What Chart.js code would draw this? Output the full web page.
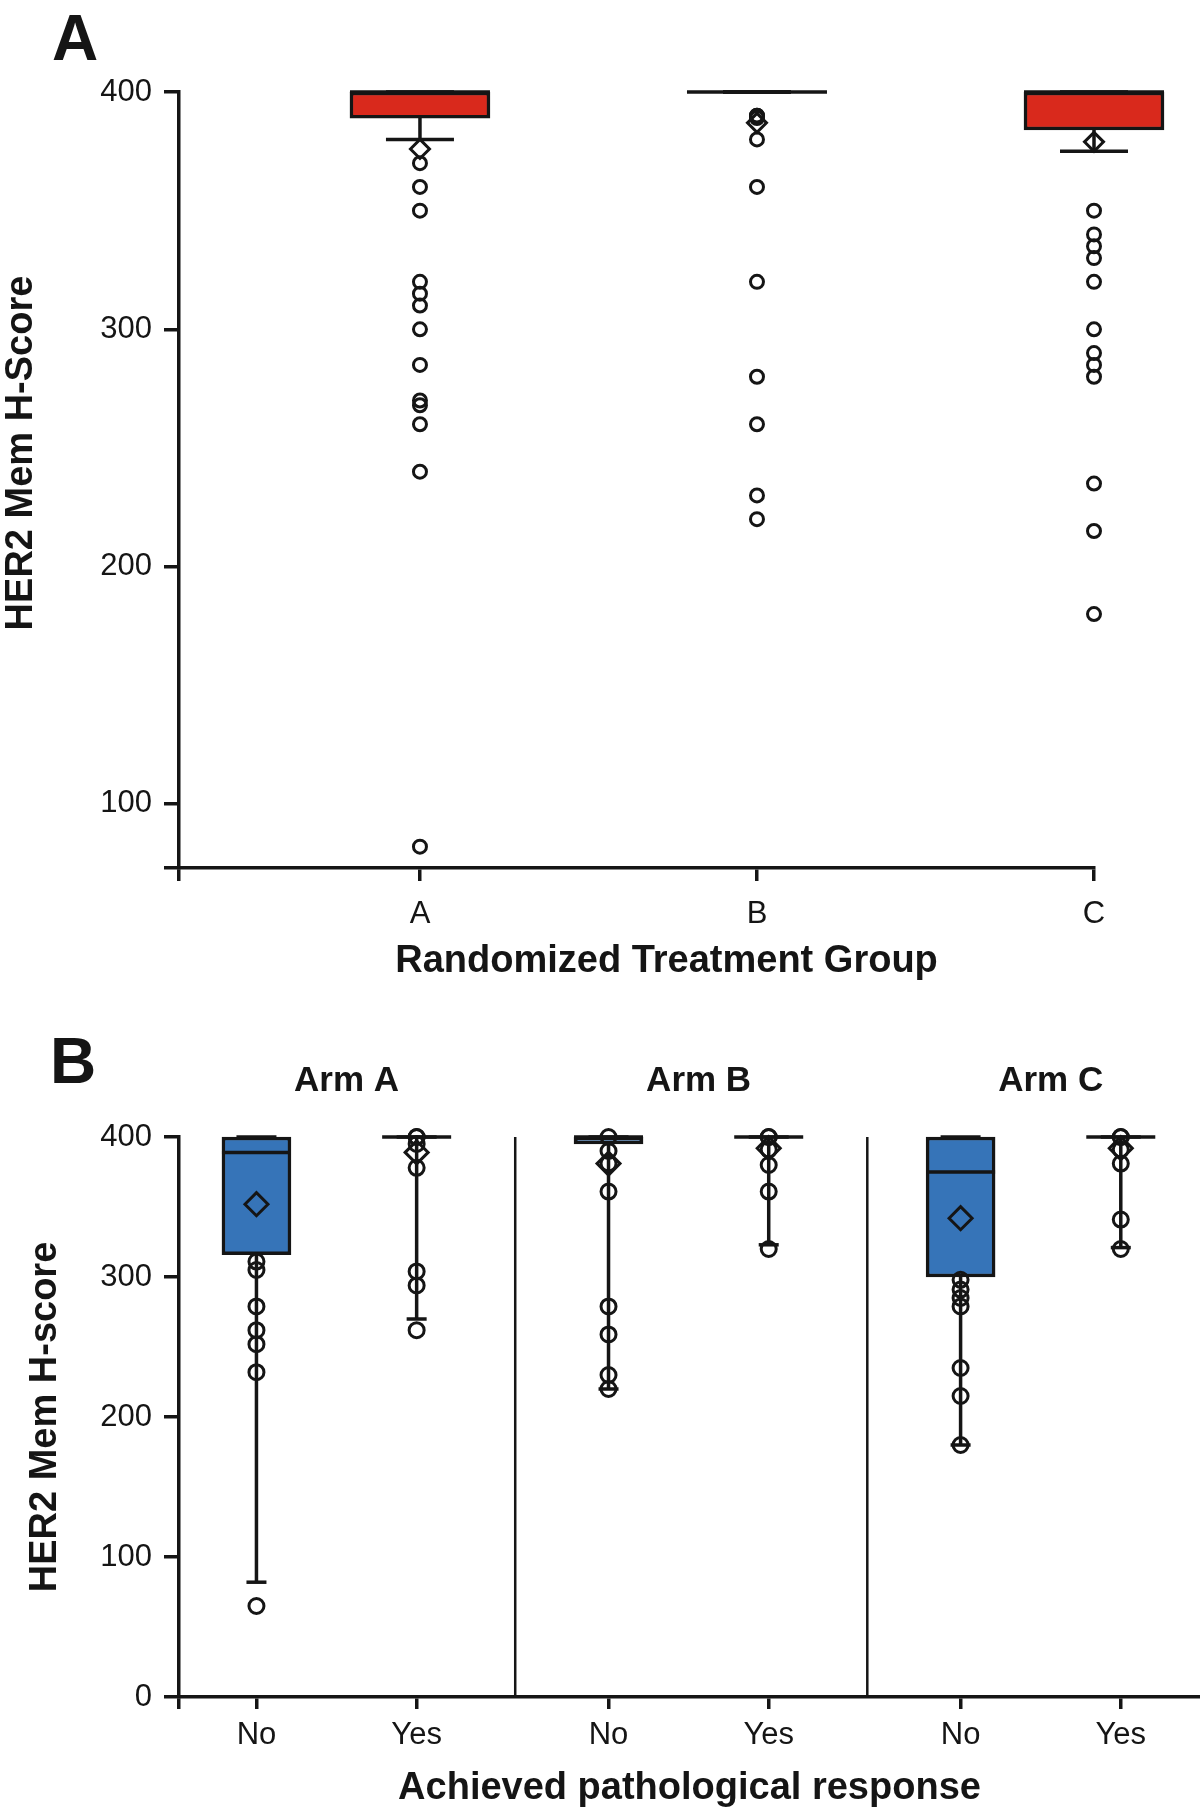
<!DOCTYPE html>
<html>
<head>
<meta charset="utf-8">
<script src="https://cdn.jsdelivr.net/npm/chart.js@4.4.0/dist/chart.umd.min.js"></script>
<style>
  body { margin: 0; background: #fff; }
  #page { position: relative; width: 1200px; height: 1813px; font-family: 'Liberation Sans', Arial, sans-serif; }
  #page canvas { position: absolute; left: 0; }
  .letter { position: absolute; font-weight: bold; font-size: 64px; line-height: 64px; color: #151515; }
</style>
</head>
<body>
<div id="page">
  <canvas id="chartA" width="1200" height="1000" style="top:0"></canvas>
  <canvas id="chartB" width="1200" height="813" style="top:1000px"></canvas>
  <div class="letter" style="left:52px; top:6px">A</div>
  <div class="letter" style="left:50px; top:1029px">B</div>
</div>
<script>
// panel A: HER2 score by randomized group
const groupsA = ['A', 'B', 'C'];
const q1A = [389, 400, 384];
const medA = [400, 400, 400];
const q3A = [400, 400, 400];
const loA = [380, 400, 375];
const hiA = [400, 400, 400];
const meanA = [376, 387, 379];
const outA = [
  [370, 360, 350, 320, 315, 310, 300, 285, 270, 268, 260, 240, 82],
  [390, 390, 389, 380, 360, 320, 280, 260, 230, 220],
  [350, 340, 335, 330, 320, 300, 290, 285, 280, 235, 215, 180]
];
const yTicksA = [100, 200, 300, 400];

// panel B: by arm and pathological response (A-No, A-Yes, B-No, B-Yes, C-No, C-Yes)
const arms = ['Arm A', 'Arm B', 'Arm C'];
const responses = ['No', 'Yes'];
const q1B = [316, 400, 395, 400, 300, 400];
const medB = [389, 400, 400, 400, 375, 400];
const q3B = [400, 400, 400, 400, 400, 400];
const loB = [82, 270, 220, 323, 180, 321];
const hiB = [400, 400, 400, 400, 400, 400];
const meanB = [352, 389, 381, 392, 342, 392];
const ptsB = [
  [311, 305, 279, 262, 252, 232, 65],
  [400, 400, 395, 378, 304, 294, 262],
  [400, 390, 381, 361, 279, 259, 230, 220],
  [400, 400, 391, 380, 361, 320],
  [298, 291, 285, 279, 235, 215, 180],
  [400, 400, 391, 381, 341, 320]
];
const yTicksB = [0, 100, 200, 300, 400];

const ink = '#151515';
const red = '#d9291c';
const blue = '#3674b8';
const family = "'Liberation Sans', Arial, sans-serif";
Chart.defaults.font.family = family;
Chart.defaults.color = ink;

// builds the box, whisker, cap, median, mean and point layers for one panel
function boxLayers(xs, s, st) {
  const whisk = [], caps = [], capR = [];
  xs.forEach((x, i) => {
    whisk.push({x, y: s.q1[i]}, {x, y: s.lo[i]}, {x, y: null});
    whisk.push({x, y: s.q3[i]}, {x, y: s.hi[i]}, {x, y: null});
    caps.push({x, y: s.lo[i]}, {x, y: s.hi[i]});
    capR.push(st.loCap, st.hiCap);
  });
  const pts = [];
  xs.forEach((x, i) => s.pts[i].forEach(v => pts.push({x, y: v})));
  return [
    { type: 'bar', order: 6, clip: false, data: xs.map((x, i) => ({x, y: [s.q1[i], s.q3[i]]})),
      backgroundColor: st.fill, borderColor: ink, borderWidth: 3.5, borderSkipped: false, barThickness: st.boxW },
    { type: 'scatter', order: 5, clip: false, data: whisk, showLine: true, spanGaps: false,
      borderColor: ink, borderWidth: 3.5, pointRadius: 0 },
    { type: 'scatter', order: 4, clip: false, data: caps, pointStyle: 'line', pointRadius: capR,
      pointBorderColor: ink, pointBorderWidth: 3.5 },
    { type: 'scatter', order: 3, clip: false, data: xs.map((x, i) => ({x, y: s.med[i]})),
      pointStyle: 'line', pointRadius: st.boxW / 2, pointBorderColor: ink, pointBorderWidth: 3.5 },
    { type: 'scatter', order: 2, clip: false, data: xs.map((x, i) => ({x, y: s.mean[i]})),
      pointStyle: 'rectRot', pointRadius: st.meanR, pointBackgroundColor: 'rgba(0,0,0,0)',
      pointBorderColor: ink, pointBorderWidth: 3 },
    { type: 'scatter', order: 1, clip: false, data: pts, pointStyle: 'circle', pointRadius: st.ptR,
      pointBackgroundColor: 'rgba(0,0,0,0)', pointBorderColor: ink, pointBorderWidth: 3 }
  ];
}

function axis(tickLen) {
  return {
    offset: false,
    border: { display: true, color: ink, width: 3.5 },
    grid: { offset: false, drawOnChartArea: false, drawTicks: true, tickLength: tickLen, color: ink, lineWidth: 3.5 }
  };
}
const tickFont = { size: 31 };
const titleFont = { size: 38, weight: 'bold', lineHeight: 1 };

// panel A axis titles sit a bit off-centre in the original, so they are drawn here
const titlesA = {
  id: 'titlesA',
  afterDraw(chart) {
    const { ctx, chartArea: a } = chart;
    ctx.save();
    ctx.font = 'bold 38px ' + family;
    ctx.fillStyle = ink;
    ctx.textAlign = 'center';
    ctx.textBaseline = 'middle';
    ctx.fillText('Randomized Treatment Group', (a.left + a.right) / 2 + 30, a.bottom + 94);
    ctx.translate(22, (a.top + a.bottom) / 2 - 27);
    ctx.rotate(-Math.PI / 2);
    ctx.fillText('HER2 Mem H-Score', 0, 0);
    ctx.restore();
  }
};

// panel A
const xsA = groupsA.map((g, i) => i + 1);
new Chart(document.getElementById('chartA'), {
  type: 'scatter',
  data: {
    datasets: boxLayers(xsA,
      { q1: q1A, med: medA, q3: q3A, lo: loA, hi: hiA, mean: meanA, pts: outA },
      { fill: red, boxW: 140, loCap: 34, hiCap: 34, meanR: 9.5, ptR: 6.5 })
  },
  options: {
    responsive: false, animation: false, events: [],
    layout: { autoPadding: false, padding: { top: 92, right: 106, left: 0, bottom: 0 } },
    plugins: { legend: { display: false }, tooltip: { enabled: false } },
    scales: {
      x: {
        type: 'linear', min: 0.285, max: 3, ...axis(13),
        afterBuildTicks: s => { s.ticks = [s.min].concat(xsA).map(v => ({ value: v })); },
        ticks: { autoSkip: false, maxRotation: 0, padding: 15, font: tickFont, color: ink,
                 callback: (v, i) => i === 0 ? '' : groupsA[i - 1] },
        afterFit: s => { s.height = 132; s.paddingLeft = 0; s.paddingRight = 0; }
      },
      y: {
        type: 'linear', min: 73, max: 400, ...axis(15),
        afterBuildTicks: s => { s.ticks = [s.min].concat(yTicksA).map(v => ({ value: v })); },
        ticks: { autoSkip: false, padding: 12, font: tickFont, color: ink,
                 callback: (v, i) => i === 0 ? '' : v },
        afterFit: s => { s.width = 179; }
      }
    }
  },
  plugins: [titlesA]
});

// panel B
const slot = [0.53, 1.44];
const xsB = arms.flatMap((a, g) => slot.map(o => g * 2 + o));
const yMinB = yTicksB[0], yMaxB = yTicksB[yTicksB.length - 1];
const dividers = [];
arms.slice(1).forEach((a, g) => {
  dividers.push({ x: (g + 1) * 2, y: yMinB }, { x: (g + 1) * 2, y: yMaxB }, { x: (g + 1) * 2, y: null });
});

const armTitles = {
  id: 'armTitles',
  afterDraw(chart) {
    const { ctx, chartArea } = chart;
    const x = chart.scales.x;
    ctx.save();
    ctx.font = 'bold 35px ' + family;
    ctx.fillStyle = ink;
    ctx.textAlign = 'center';
    ctx.textBaseline = 'middle';
    arms.forEach((a, g) => {
      ctx.fillText(a, x.getPixelForValue(g * 2 + (slot[0] + slot[1]) / 2) + 10, chartArea.top - 56);
    });
    ctx.restore();
  }
};

new Chart(document.getElementById('chartB'), {
  type: 'scatter',
  data: {
    datasets: boxLayers(xsB,
      { q1: q1B, med: medB, q3: q3B, lo: loB, hi: hiB, mean: meanB, pts: ptsB },
      { fill: blue, boxW: 69, loCap: 10, hiCap: 20, meanR: 11.5, ptR: 7.5 })
      .concat([{ type: 'scatter', order: 7, clip: false, data: dividers, showLine: true, spanGaps: false,
                 borderColor: ink, borderWidth: 2.5, pointRadius: 0 }])
  },
  options: {
    responsive: false, animation: false, events: [],
    layout: { autoPadding: false, padding: { top: 137, right: 0, left: 0, bottom: 0 } },
    plugins: { legend: { display: false }, tooltip: { enabled: false } },
    scales: {
      x: {
        type: 'linear', min: 0.09, max: 5.89, ...axis(12),
        afterBuildTicks: s => { s.ticks = [s.min].concat(xsB).map(v => ({ value: v })); },
        ticks: { autoSkip: false, maxRotation: 0, padding: 8, font: tickFont, color: ink,
                 callback: (v, i) => i === 0 ? '' : responses[(i - 1) % 2] },
        title: { display: true, text: 'Achieved pathological response', font: titleFont, color: ink,
                 padding: { top: 0, bottom: 5 } },
        afterFit: s => { s.height = 116; s.paddingLeft = 0; s.paddingRight = 0; }
      },
      y: {
        type: 'linear', min: yMinB, max: yMaxB, ...axis(15),
        afterBuildTicks: s => { s.ticks = yTicksB.map(v => ({ value: v })); },
        ticks: { autoSkip: false, padding: 12, font: tickFont, color: ink },
        title: { display: true, text: 'HER2 Mem H-score', font: titleFont, color: ink,
                 padding: { top: 27, bottom: 0 } },
        afterFit: s => { s.width = 179; }
      }
    }
  },
  plugins: [armTitles]
});
</script>
</body>
</html>
